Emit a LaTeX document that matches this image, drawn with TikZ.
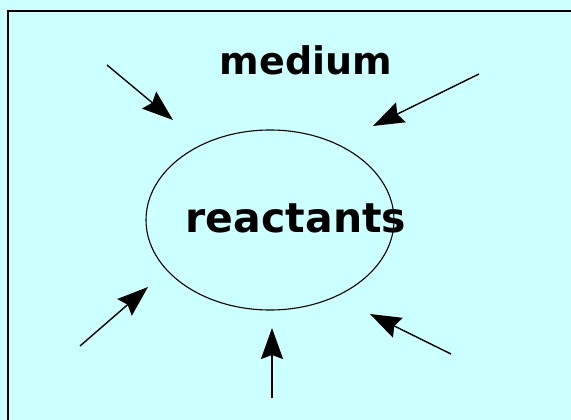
\documentclass[tikz,border=0pt]{standalone}
\usepackage{fontspec}
\setmainfont{DejaVu Sans}
\usetikzlibrary{arrows.meta,shapes.geometric}
\definecolor{bgcyan}{RGB}{204,255,255}
\begin{document}
\begin{tikzpicture}[x=1pt,y=-1pt,
  inarrow/.style={line width=1.4pt,-{Stealth[length=31pt,width=22pt,inset=4pt]}},
  label/.style={font=\bfseries, inner sep=0pt, anchor=base}]
\fill[bgcyan] (0,0) rectangle (571,420);
\useasboundingbox (0,0) rectangle (571,420);
\draw[line width=1.5pt] (8,440) -- (8,11) -- (590,11);
\node[draw, line width=1.1pt, ellipse, minimum width=248pt, minimum height=180pt, inner sep=0pt] (react) at (270,220) {};
\node[label, font=\fontsize{38}{40}\selectfont\bfseries] (med) at (306,75) {medium};
\node[label, font=\fontsize{41}{44}\selectfont\bfseries] (rea) at (296,232) {reactants};
\coordinate (t1) at (107,65);  \coordinate (h1) at (173,120);
\coordinate (t2) at (479,74);  \coordinate (h2) at (373,126);
\coordinate (t3) at (80,346);  \coordinate (h3) at (148,287);
\coordinate (t4) at (272,398); \coordinate (h4) at (272,328);
\coordinate (t5) at (451,354); \coordinate (h5) at (370,314);
\draw[inarrow] (t1) -- (h1);
\draw[inarrow] (t2) -- (h2);
\draw[inarrow] (t3) -- (h3);
\draw[inarrow] (t4) -- (h4);
\draw[inarrow] (t5) -- (h5);
\end{tikzpicture}
\end{document}
